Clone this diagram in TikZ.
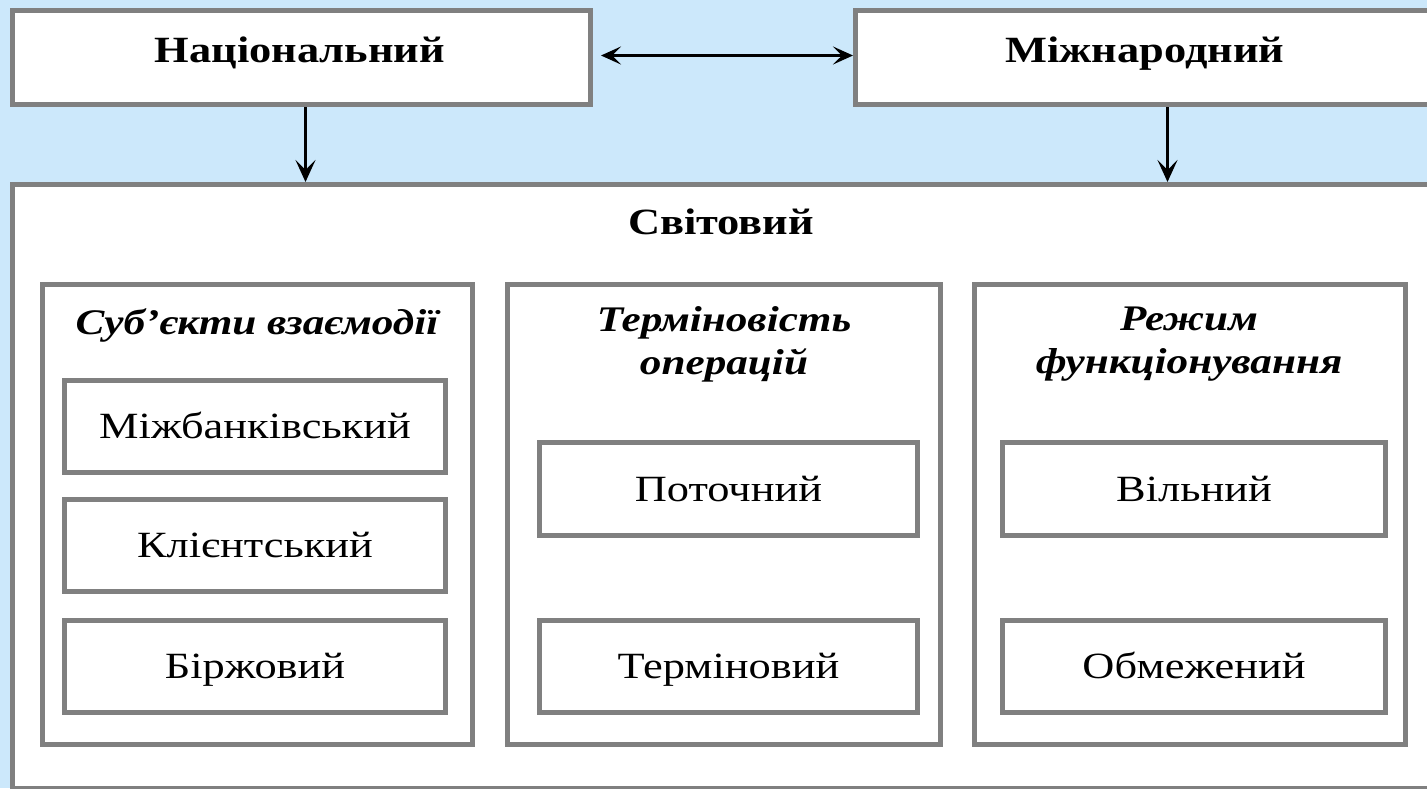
\documentclass[tikz,border=0pt]{standalone}
\usepackage{fontspec}
\setmainfont[FakeStretch=1.2]{Liberation Serif}
\usetikzlibrary{arrows.meta}
\definecolor{bg}{RGB}{204,232,251}
\definecolor{bordergray}{RGB}{128,128,128}
\begin{document}
\begin{tikzpicture}[x=1pt,y=-1pt,
  box/.style={draw=bordergray, line width=5pt, fill=white, inner sep=0pt, anchor=north west, align=center},
  toplabel/.style={font=\fontsize{37}{40}\selectfont\bfseries, text height=24pt, text depth=0pt, inner sep=0pt},
  headlabel/.style={font=\fontsize{36}{43}\selectfont\bfseries\itshape, align=center, inner sep=0pt},
  itemlabel/.style={font=\fontsize{37}{40}\selectfont, text height=24pt, text depth=0pt},
  conn/.style={line width=2.2pt, -{Stealth[length=22pt,width=20pt,inset=10pt]}},
]
\fill[bg] (0,0) rectangle (1427,788);
\useasboundingbox (0,0) rectangle (1427,788);
\clip (0,0) rectangle (1427,788);

% top boxes
\node[box, minimum width=578pt, minimum height=94pt] (nat) at (10,8) {};
\node[toplabel] (natlab) at (300,50) {Національний};
\node[box, minimum width=624pt, minimum height=94pt] (intl) at (853,8) {};
\node[toplabel] (intllab) at (1145,50) {Міжнародний};

% world box
\node[box, minimum width=1440pt, minimum height=604pt] (world) at (10,182) {};
\node[toplabel] (worldlab) at (721,222) {Світовий};

% columns
\node[box, minimum width=430pt, minimum height=460pt] (c1) at (40,282) {};
\node[box, minimum width=433pt, minimum height=460pt] (c2) at (505,282) {};
\node[box, minimum width=431pt, minimum height=460pt] (c3) at (972,282) {};

\node[headlabel] (h1) at (257,325) {Суб’єкти взаємодії};
\node[headlabel] (h2) at (724,344) {Терміновість\\операцій};
\node[headlabel] (h3) at (1189,344) {Режим\\функціонування};

% items
\node[box, itemlabel, minimum width=381pt, minimum height=92pt] (a1) at (62,378) {Міжбанківський};
\node[box, itemlabel, minimum width=381pt, minimum height=92pt] (a2) at (62,497) {Клієнтський};
\node[box, itemlabel, minimum width=381pt, minimum height=92pt] (a3) at (62,618) {Біржовий};

\node[box, itemlabel, minimum width=378pt, minimum height=93pt] (b1) at (537,440) {Поточний};
\node[box, itemlabel, minimum width=378pt, minimum height=92pt] (b2) at (537,618) {Терміновий};

\node[box, itemlabel, minimum width=383pt, minimum height=93pt] (d1) at (1000,440) {Вільний};
\node[box, itemlabel, minimum width=383pt, minimum height=92pt] (d2) at (1000,618) {Обмежений};

% connectors
\draw[line width=2.2pt, {Stealth[length=20pt,width=18pt,inset=9pt]}-{Stealth[length=20pt,width=18pt,inset=9pt]}]
  ([xshift=8pt,yshift=2pt]nat.east) -- ([yshift=2pt]intl.west);
\draw[conn] ([xshift=4pt]nat.south) -- ([xshift=4pt]nat.south |- world.north);
\draw[conn] (intl.south) -- (intl.south |- world.north);
\end{tikzpicture}
\end{document}
